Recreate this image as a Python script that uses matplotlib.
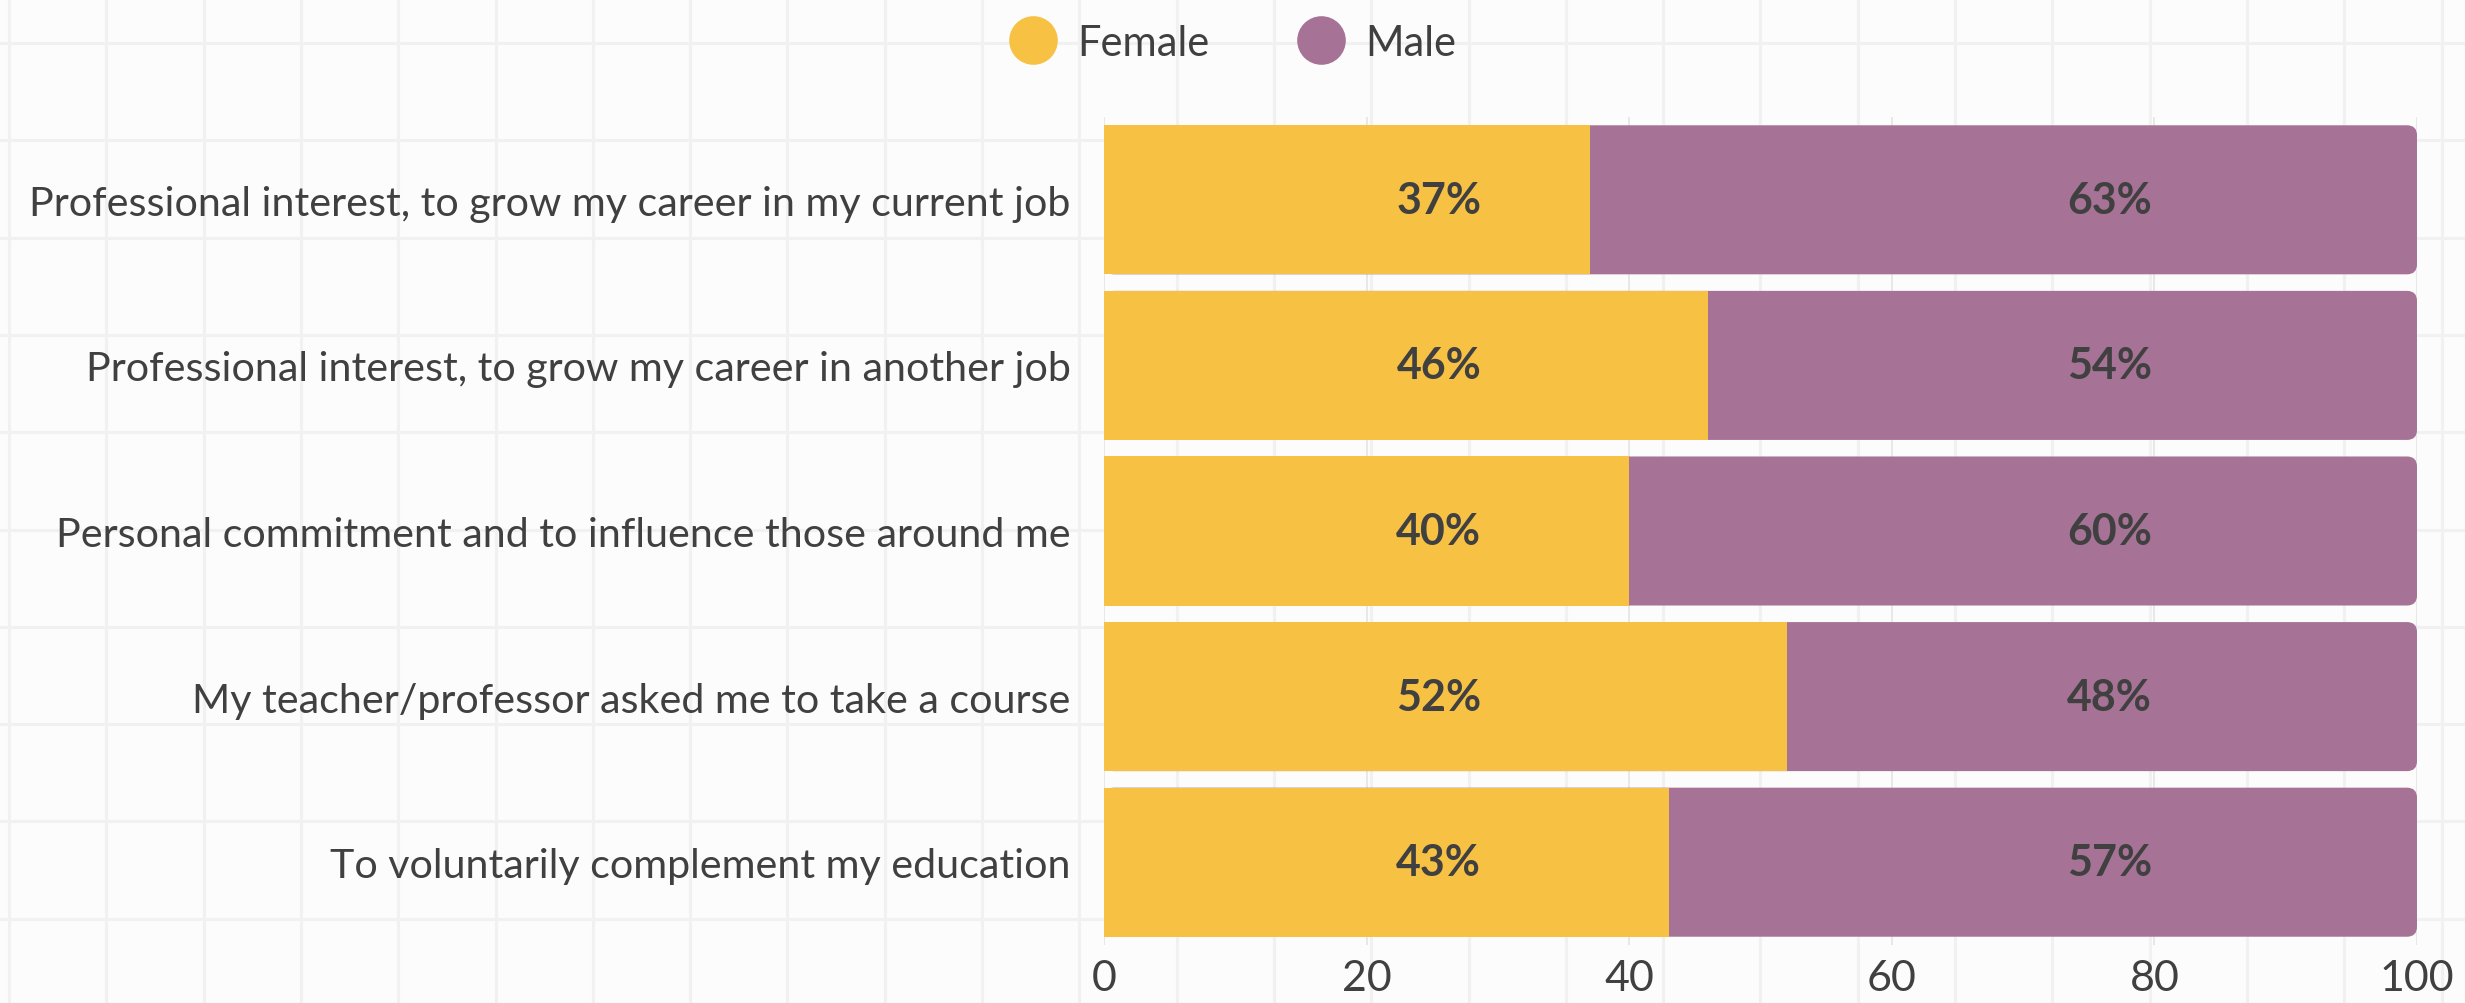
import numpy as np
import matplotlib.pyplot as plt
from matplotlib.patches import FancyBboxPatch
from matplotlib.lines import Line2D

categories = [
    "Professional interest, to grow my career in my current job",
    "Professional interest, to grow my career in another job",
    "Personal commitment and to influence those around me",
    "My teacher/professor asked me to take a course",
    "To voluntarily complement my education",
]
female = [37, 46, 40, 52, 43]
male = [63, 54, 60, 48, 57]
x_ticks = [0, 20, 40, 60, 80, 100]

female_color = "#F7C144"
male_color = "#A67296"
text_color = "#404040"
font = "Lato"

W, H = 2465, 1004
fig = plt.figure(figsize=(W / 100, H / 100), dpi=100, facecolor="#fcfcfc")

# faint page grid behind everything
bg = fig.add_axes([0, 0, 1, 1], zorder=-10)
bg.set_xlim(0, W)
bg.set_ylim(H, 0)
bg.axis("off")
for gx in np.arange(9, W, 97.3):
    bg.axvline(gx, color="#f1f1f1", lw=2.2)
for gy in np.arange(44, H, 97.3):
    bg.axhline(gy, color="#f1f1f1", lw=2.2)

ax = fig.add_axes([1104 / W, 1 - 946 / H, (2417 - 1104) / W, (946 - 118) / H])
ax.set_facecolor("none")
y = np.arange(len(categories))

ax.set_xlim(0, 100)
ax.set_ylim(len(categories) - 0.5, -0.5)

fbars = ax.barh(y, female, height=0.9, color=female_color, zorder=3)
mbars = ax.barh(y, male, left=female, height=0.9, color=male_color, zorder=2)

# round the right end of each male bar
fig.canvas.draw()
p0 = ax.transData.transform((0, 0))
p1 = ax.transData.transform((1, 1))
aspect = abs((p1[0] - p0[0]) / (p1[1] - p0[1]))
r_px = 10
r_x = r_px / abs(p1[0] - p0[0])
for r in mbars:
    r.set_visible(False)
    fb = FancyBboxPatch((0, r.get_y()), r.get_x() + r.get_width(), r.get_height(),
                        boxstyle=f"round,pad=0,rounding_size={r_x}",
                        mutation_aspect=aspect, facecolor=male_color,
                        edgecolor="none", zorder=2)
    ax.add_patch(fb)

for i in range(len(categories)):
    ax.text(25.5, y[i], f"{female[i]}%", ha="center", va="center",
            fontsize=31, fontweight="bold", color=text_color, family=font, zorder=5)
    ax.text(76.6, y[i], f"{male[i]}%", ha="center", va="center",
            fontsize=31, fontweight="bold", color=text_color, family=font, zorder=5)

ax.set_xticks(x_ticks)
ax.set_xticklabels([str(t) for t in x_ticks], fontsize=31, color=text_color, family=font)
ax.set_yticks(y)
ax.set_yticklabels(categories, fontsize=29.7, color=text_color, family=font)
ax.tick_params(axis="x", length=0, pad=10)
ax.tick_params(axis="y", length=0, pad=24)
ax.grid(axis="x", color="#e4e4e4", lw=1.2, zorder=0)
for s in ax.spines.values():
    s.set_visible(False)

handles = [
    Line2D([], [], marker="o", ls="none", markersize=35, markerfacecolor=female_color,
           markeredgecolor="none", label="Female"),
    Line2D([], [], marker="o", ls="none", markersize=35, markerfacecolor=male_color,
           markeredgecolor="none", label="Male"),
]
fig.legend(handles=handles, loc="center", bbox_to_anchor=(0.5, 1 - 44 / H), ncol=2,
           frameon=False, prop={"family": font, "size": 30}, labelcolor=text_color,
           handlelength=1.15, handletextpad=0.48, columnspacing=2.1)

fig.savefig("out.png", dpi=100, facecolor=fig.get_facecolor())
